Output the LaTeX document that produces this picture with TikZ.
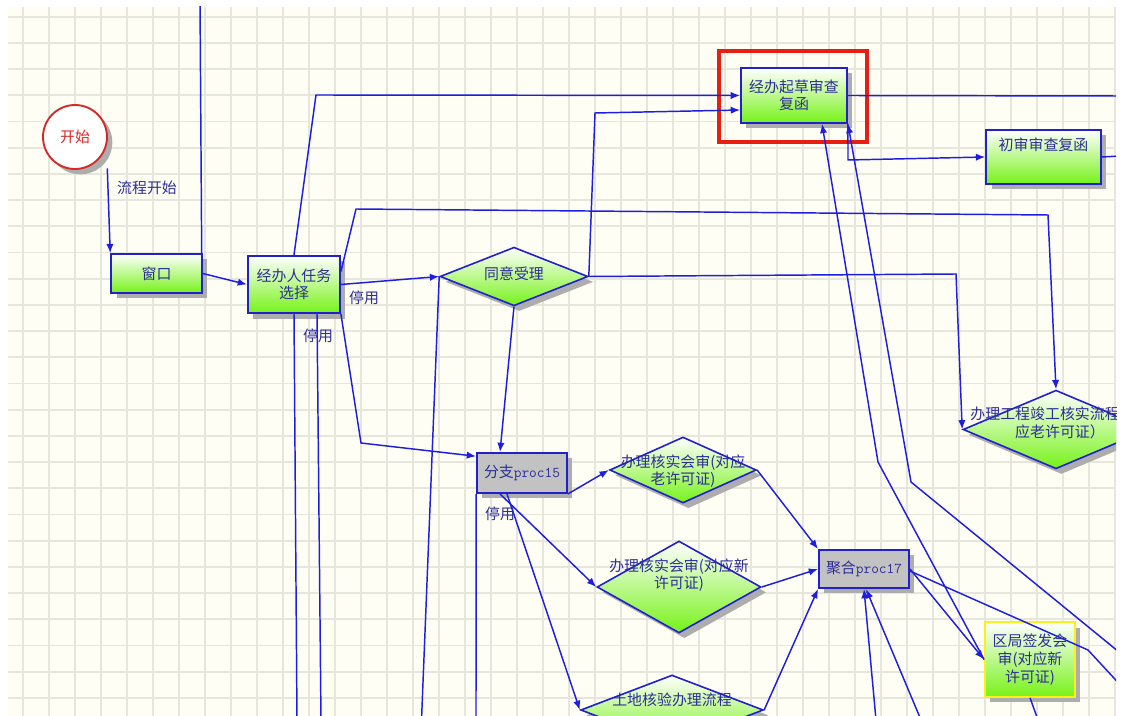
\documentclass[tikz,border=0pt]{standalone}
\usepackage{fontspec}
\setmainfont{Noto Sans CJK SC}
\usetikzlibrary{positioning,calc,arrows.meta}
\usetikzlibrary{shapes.geometric,shadows}

\definecolor{flowblue}{RGB}{30,30,225}
\definecolor{boxblue}{RGB}{32,32,205}
\definecolor{inkblue}{RGB}{45,45,150}
\definecolor{leafgreen}{RGB}{118,242,24}
\definecolor{paper}{RGB}{254,254,244}
\definecolor{gridgray}{RGB}{231,230,220}
\definecolor{boxgray}{RGB}{194,194,194}
\definecolor{markred}{RGB}{232,30,18}
\definecolor{startred}{RGB}{215,40,40}
\definecolor{edgeyellow}{RGB}{250,240,30}

\newcommand{\pc}[1]{{\ttfamily #1}}

\begin{document}
\begin{tikzpicture}[x=0.75pt, y=-0.75pt, -{Latex[length=7pt,width=5.5pt]}, semithick,
                    every node/.style = {font=\fontsize{11.2}{13}\selectfont,
                                         text=inkblue, align=center},
                    castshadow/.style = {drop shadow={shadow xshift=4pt,
                                                      shadow yshift=-4pt,
                                                      fill=black!32,
                                                      opacity=1}},
                    taskbox/.style   = {rectangle,
                                        draw=boxblue,
                                        line width=1.4pt,
                                        top color=white,
                                        middle color=leafgreen!25,
                                        bottom color=leafgreen,
                                        inner sep=1pt,
                                        castshadow},
                    procbox/.style   = {rectangle,
                                        draw=boxblue,
                                        line width=1.4pt,
                                        fill=boxgray,
                                        inner sep=1pt,
                                        castshadow},
                    choice/.style    = {diamond,
                                        draw=boxblue,
                                        line width=1.2pt,
                                        top color=white,
                                        middle color=leafgreen!30,
                                        bottom color=leafgreen,
                                        inner sep=0pt,
                                        castshadow},
                    startnode/.style = {circle,
                                        draw=startred,
                                        line width=1.4pt,
                                        fill=white,
                                        text=startred,
                                        minimum size=48pt,
                                        castshadow},
                    note/.style      = {text=inkblue},
                    flow/.style      = {draw=flowblue, line width=1.1pt},
                    focus/.style     = {-, draw=markred, line width=3pt},
                    gridline/.style  = {-, draw=gridgray, line width=1.4pt}]

% canvas
\useasboundingbox (0,0) rectangle (1123,716);
\fill[white] (0,0) rectangle (1123,716);
\clip (8,7) rectangle (1116,716);
\fill[paper] (8,7) rectangle (1116,716);
\foreach \i in {0,...,42}
  \draw[gridline] ({22.7+26*\i},7) -- ({22.7+26*\i},716);
\foreach \j in {0,...,26}
  \draw[gridline] (8,{16.7+26.2*\j}) -- (1116,{16.7+26.2*\j});

% nodes
\node[startnode] (start) at (75,137) {开始};
\node[taskbox, minimum width=68pt, minimum height=29pt] (win) at (156.5,273.5) {窗口};
\node[taskbox, minimum width=69pt, minimum height=43pt] (task) at (294,284.5) {经办人任务\\选择};
\node[choice, minimum width=111pt, minimum height=44pt,
      label={[yshift=2pt]center:同意受理}] (accept) at (514,276.5) {};
\node[taskbox, minimum width=79.5pt, minimum height=41pt] (draft) at (794,95.5) {经办起草审查\\复函};
\node[taskbox, minimum width=86pt, minimum height=40.5pt,
      label={[anchor=north, yshift=-3pt]north:初审审查复函}] (first) at (1043.5,157) {};
\node[choice, minimum width=139.5pt, minimum height=59pt,
      label={[xshift=3pt, yshift=5pt]center:{办理工程竣工核实流程（对\\应老许可证）}}] (complete) at (1056,429.5) {};
\node[procbox, minimum width=67.5pt, minimum height=30pt] (split) at (522,473) {分支\pc{proc15}};
\node[choice, minimum width=110pt, minimum height=49.5pt,
      label={[yshift=-1pt]center:{办理核实会审(对应\\老许可证)}}] (old) at (683,470) {};
\node[choice, minimum width=123pt, minimum height=69pt,
      label={[yshift=9pt]center:{办理核实会审(对应新\\许可证)}}] (new) at (679,587) {};
\node[choice, minimum width=137pt, minimum height=52.5pt,
      label={[yshift=7.5pt]center:土地核验办理流程}] (land) at (672,710) {};
\node[procbox, minimum width=67.5pt, minimum height=28.5pt] (merge) at (864,569) {聚合\pc{proc17}};
\node[taskbox, draw=edgeyellow, minimum width=67.5pt, minimum height=56pt,
      font=\fontsize{11.2}{13.5}\selectfont] (district) at (1030,659.5) {区局签发会\\审(对应新\\许可证)};

\draw[focus] (719,51) rectangle (867,142);

% free ends
\coordinate (outWin)   at (200,0);
\coordinate (outTaskA) at (297,720);
\coordinate (outTaskB) at (321,720);
\coordinate (outAcc)   at (421.5,720);
\coordinate (outSplit) at (476,720);
\coordinate (outDraft) at (1120,96);
\coordinate (outFirst) at (1120,156);
\coordinate (outBack)  at (1130,661);
\coordinate (outMerge) at (1125,690);
\coordinate (outDist)  at (1038,720);
\coordinate (inMergeA) at (876,720);
\coordinate (inMergeB) at (921,720);

% labels
\node[note] (lblStart) at (147,188) {流程开始};
\node[note] (offA) at (364,298) {停用};
\node[note] (offB) at (318,336) {停用};
\node[note] (offC) at (500,514) {停用};

% connectors
\draw[flow] ($(start.-45)+(9,8)$) -- (win.north west);
\draw[flow] (win.east) -- (task.west);
\draw[flow, -] ([xshift=-0.8pt]win.north east) -- (outWin);

\draw[flow] (task.north) -- (316,95) -- (draft.west);
\draw[flow] (task.east) -- (accept.west);
\draw[flow] ($(task.east)+(0,-13)$) -- (356,209) -- (1048,215) -- (complete.north);
\draw[flow] (task.south east) -- (361,443) -- ($(split.north west)!0.1!(split.south west)$);
\draw[flow, -] (task.south) -- (outTaskA);
\draw[flow, -] ($(task.south)+(23,0)$) -- (outTaskB);

\draw[flow] (accept.east) -- (595,113) -- ($(draft.west)+(0,14.5)$);
\draw[flow] (accept.east) -- (956,274) -- (complete.west);
\draw[flow] (accept.south) -- ($(split.north)+(-22,0)$);
\draw[flow, -] (accept.west) -- (outAcc);

\draw[flow, -] (draft.east) -- (outDraft);
\draw[flow] (draft.south east) -- (848,160) -- (first.west);
\draw[flow, -] (first.east) -- (outFirst);

\draw[flow] (split.south east) -- (old.west);
\draw[flow] ($(split.south)+(-22,0)$) -- (new.west);
\draw[flow] ($(split.south)+(-15,0)$) -- (land.west);
\draw[flow, -] (split.south west) -- (outSplit);

\draw[flow] (old.east) -- (merge.north west);
\draw[flow] (new.east) -- (merge.west);
\draw[flow] (land.east) -- (merge.south west);
\draw[flow] (inMergeA) -- (merge.south);
\draw[flow] (inMergeB) -- ($(merge.south)+(2,0)$);

\draw[flow] (merge.east) -- (district.west);
\draw[flow, -] ($(merge.east)+(0,2)$) -- (1088,650) -- (outMerge);
\draw[flow] (district.west) -- (878,462) -- ($(draft.south)+(28,0)$);
\draw[flow] (outBack) -- (911,482) -- (draft.south east);
\draw[flow, -] (district.south) -- (outDist);

\end{tikzpicture}
\end{document}
